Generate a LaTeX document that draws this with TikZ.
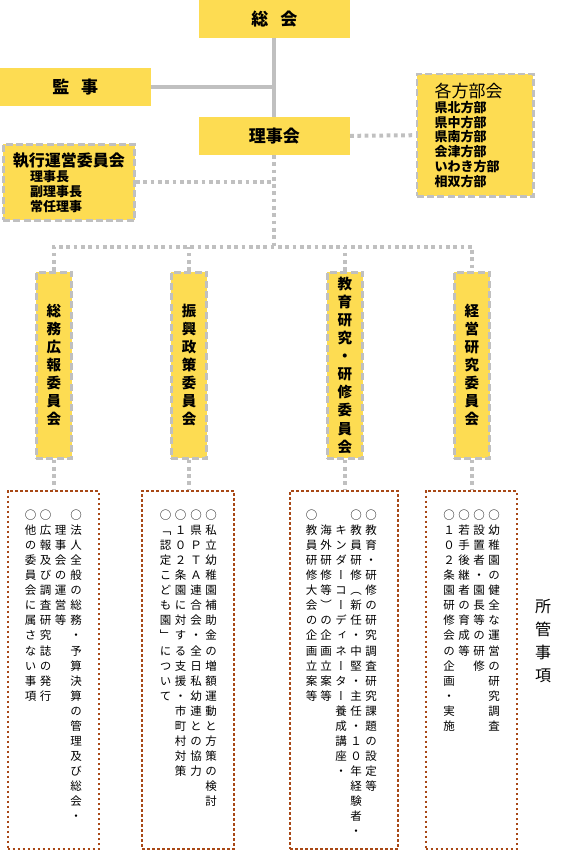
\documentclass[tikz,border=0pt]{standalone}
\usepackage{fontspec}
\setmainfont{Noto Sans CJK JP}
\newfontfamily\jpv[RawFeature=+vert]{Noto Sans CJK JP}

\definecolor{boxyellow}{RGB}{253,220,82}
\definecolor{linkgray}{RGB}{192,192,192}
\definecolor{dotbrown}{RGB}{168,72,22}

% one character per line (vertical writing)
\makeatletter
\newcommand\vtext[1]{\parindent=0pt\@tfor\vch:=#1\do{\rule[-.12em]{0pt}{1em}\vch\par}}
\makeatother

\begin{document}
\begin{tikzpicture}[x=1pt, y=-1pt, line cap=butt]

% ---------------- styles ----------------
\tikzset{
  solidbox/.style={fill=boxyellow, inner sep=0pt, minimum height=37.7pt},
  dashbox/.style={draw=linkgray, line width=2.7pt, dash pattern=on 7pt off 3.3pt, fill=boxyellow, inner sep=0pt},
  dutybox/.style={draw=dotbrown, line width=2.3pt, dash pattern=on 2.7pt off 2.3pt, inner sep=0pt, minimum height=357.7pt},
  solidlink/.style={draw=linkgray, line width=4pt},
  dotlink/.style={draw=linkgray, line width=4pt, dash pattern=on 3.7pt off 3.6pt},
  head/.style={font=\fontsize{17}{17}\selectfont\bfseries},
  iinkai/.style={dashbox, minimum width=35.5pt, minimum height=186pt, text width=14.5pt, align=center,
    font=\jpv\bfseries\fontsize{14.5}{18.1}\selectfont},
  col/.style={anchor=north, inner sep=0pt, text width=11.5pt, align=center,
    font=\jpv\fontsize{11.5}{15.05}\selectfont}
}

\useasboundingbox (0,0) rectangle (565,851);

% ---------------- parameters ----------------
\def\rowA{509.25}  % top of first row in duty boxes
\def\rowB{524.3}   % second row (continued lines)
\coordinate (bus) at (274.4,246.7);

% ---------------- upper organs ----------------
\node[solidbox, minimum width=151pt, head] (sokai) at (274.4,18.85) {総\hspace{.7em}会};
\node[solidbox, minimum width=150.6pt, head] (kanji) at (75.3,86.85) {監\hspace{.7em}事};
\node[solidbox, minimum width=151pt, head] (rijikai) at (274.4,135.85) {理事会};

% regional branches
\node[dashbox, minimum width=116.6pt, minimum height=122.3pt] (bumon) at (475.15,135.2) {};
\node[anchor=west, inner sep=0pt, font=\fontsize{17}{17}\selectfont] (bumontitle) at (434.5,90.8) {各方部会};
\node[anchor=north west, inner sep=0pt, align=left, font=\fontsize{13}{14.76}\selectfont\bfseries]
  (bumonlist) at (434.5,101) {県北方部\\県中方部\\県南方部\\会津方部\\いわき方部\\相双方部};

% executive committee
\node[dashbox, minimum width=131.5pt, minimum height=76pt] (shikko) at (68.9,182.35) {};
\node[anchor=west, inner sep=0pt, font=\fontsize{16}{16}\selectfont\bfseries] (shikkotitle) at (12.6,161) {執行運営委員会};
\node[anchor=north west, inner sep=0pt, align=left, font=\fontsize{13}{15}\selectfont\bfseries]
  (shikkolist) at (30,170) {理事長\\副理事長\\常任理事};

% ---------------- committees ----------------
\node[iinkai] (somu) at (53.9,365.15) {\vtext{総務広報委員会}};
\node[iinkai] (shinko) at (189,365.15) {\vtext{振興政策委員会}};
\node[iinkai] (kyoiku) at (344.9,365.15) {\vtext{教育研究・研修委員会}};
\node[iinkai] (keiei) at (471.9,365.15) {\vtext{経営研究委員会}};

% ---------------- duties ----------------
\node[dutybox, minimum width=91.4pt] (somuduty) at (53.35,670) {};
\node[dutybox, minimum width=92.1pt] (shinkoduty) at (188.1,670) {};
\node[dutybox, minimum width=108pt] (kyoikuduty) at (344.15,670) {};
\node[dutybox, minimum width=91.4pt] (keieiduty) at (471.35,670) {};

\node[col] (somuA) at (76,\rowA) {\vtext{○法人全般の総務・予算決算の管理及び総会・}};
\node[col] (somuB) at (60.7,\rowB) {\vtext{理事会の運営等}};
\node[col] (somuC) at (45.7,\rowA) {\vtext{○広報及び調査研究誌の発行}};
\node[col] (somuD) at (30.7,\rowA) {\vtext{○他の委員会に属さない事項}};

\node[col] (shinkoA) at (211,\rowA) {\vtext{○私立幼稚園補助金の増額運動と方策の検討}};
\node[col] (shinkoB) at (196,\rowA) {\vtext{○県ＰＴＡ連合会・全日私幼連との協力}};
\node[col] (shinkoC) at (180.7,\rowA) {\vtext{○１０２条園に対する支援・市町村対策}};
\node[col] (shinkoD) at (165.7,\rowA) {\vtext{○「認定こども園」について}};

\node[col] (kyoikuA) at (371,\rowA) {\vtext{○教育・研修の研究調査研究課題の設定等}};
\node[col] (kyoikuB) at (356,\rowA) {\vtext{○教員研修（新任・中堅・主任・１０年経験者・}};
\node[col] (kyoikuC) at (341,\rowB) {\vtext{キンダーコーディネーター養成講座・}};
\node[col] (kyoikuD) at (326,\rowB) {\vtext{海外研修等）の企画立案等}};
\node[col] (kyoikuE) at (311.7,\rowA) {\vtext{○教員研修大会の企画立案等}};

\node[col] (keieiA) at (494,\rowA) {\vtext{○幼稚園の健全な運営の研究調査}};
\node[col] (keieiB) at (479,\rowA) {\vtext{○設置者・園長等の研修}};
\node[col] (keieiC) at (464,\rowA) {\vtext{○若手後継者の育成等}};
\node[col] (keieiD) at (449,\rowA) {\vtext{○１０２条園研修会の企画・実施}};

\node[anchor=north, inner sep=0pt, text width=16pt, align=center, font=\jpv\fontsize{16}{22.8}\selectfont]
  (shokan) at (543,598.7) {\vtext{所管事項}};

% ---------------- connectors ----------------
\draw[solidlink] (sokai.south) -- (rijikai.north);
\draw[solidlink] (kanji.east) -- (kanji.east -| sokai.south);
\draw[dotlink] (rijikai.east) -- (bumon.west);
\draw[dotlink] (shikko.east) -- (shikko.east -| rijikai.south);
\draw[dotlink] (rijikai.south) -- (bus);
\draw[dotlink] (somu.north) -- (somu.north |- bus) -- (keiei.north |- bus) -- (keiei.north);
\draw[dotlink] (shinko.north) -- (shinko.north |- bus);
\draw[dotlink] (kyoiku.north) -- (kyoiku.north |- bus);
\foreach \a/\b in {somu/somuduty, shinko/shinkoduty, kyoiku/kyoikuduty, keiei/keieiduty}
  \draw[dotlink] (\a.south) -- (\a.south |- \b.north);

\end{tikzpicture}
\end{document}
